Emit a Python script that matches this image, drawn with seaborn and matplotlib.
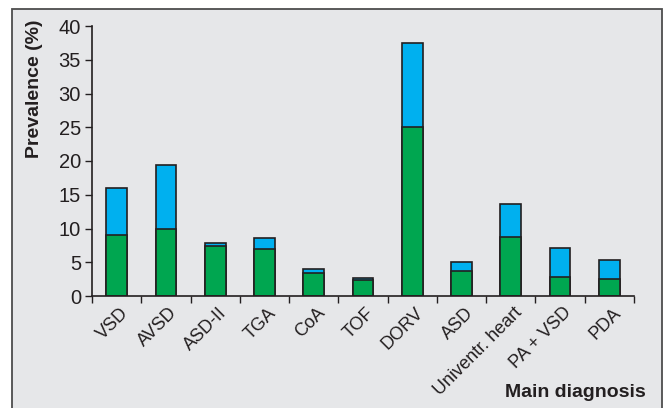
import pandas as pd
import numpy as np
import matplotlib
matplotlib.use('Agg')
import matplotlib.pyplot as plt
import matplotlib.transforms as mtransforms
import seaborn as sns
from matplotlib.patches import Rectangle

diagnoses = ['VSD', 'AVSD', 'ASD-II', 'TGA', 'CoA', 'TOF', 'DORV', 'ASD',
             'Univentr. heart', 'PA + VSD', 'PDA']
green_vals = [9.0, 10.0, 7.45, 7.0, 3.45, 2.3, 25.0, 3.75, 8.7, 2.8, 2.55]
total_vals = [16.0, 19.4, 7.9, 8.6, 4.0, 2.6, 37.5, 5.0, 13.7, 7.05, 5.3]

df = pd.DataFrame({'diagnosis': diagnoses, 'green': green_vals, 'total': total_vals})

bg = '#e6e7e9'
green = '#00a650'
blue = '#00b0ef'
edge = '#231f20'

sns.set_style('white')
plt.rcParams['font.family'] = ['Liberation Sans', 'DejaVu Sans']

fig = plt.figure(figsize=(6.68, 4.08), dpi=100, facecolor='white')
# grey panel with a frame on left, top and right
fig.patches.append(Rectangle((11.5/668, -10/408), 650.5/668, 409.5/408, transform=fig.transFigure,
                             facecolor=bg, edgecolor='#4d4d4d', linewidth=1.3, zorder=-1))
ax = fig.add_axes([92/668, (408-296)/408, (634-92)/668, 270/408])
ax.patch.set_alpha(0)

sns.barplot(data=df, x='diagnosis', y='total', color=blue, edgecolor=edge, linewidth=1.2,
            width=0.42, saturation=1, ax=ax)
sns.barplot(data=df, x='diagnosis', y='green', color=green, edgecolor=edge, linewidth=1.2,
            width=0.42, saturation=1, ax=ax)

ax.set_xlim(-0.5, len(diagnoses) - 0.5)
ax.set_ylim(0, 40)
ax.set_yticks(range(0, 41, 5))
ax.tick_params(axis='y', labelsize=14.5, length=5, width=1, color=edge, left=True, pad=3,
               labelcolor='#231f20')
ax.set_xticks(np.arange(len(diagnoses)))
ax.set_xticklabels(diagnoses, rotation=45, ha='right', rotation_mode='anchor', fontsize=13,
                   color='#231f20')
ax.tick_params(axis='x', length=0, pad=6)
shift = mtransforms.ScaledTranslation(3/100, 0, fig.dpi_scale_trans)
for lab in ax.get_xticklabels():
    lab.set_transform(lab.get_transform() + shift)
ax.set_xticks(np.arange(-0.5, len(diagnoses)), minor=True)
ax.tick_params(axis='x', which='minor', length=5, width=1, color=edge, bottom=True)

for s in ['top', 'right']:
    ax.spines[s].set_visible(False)
for s in ['left', 'bottom']:
    ax.spines[s].set_color(edge)
    ax.spines[s].set_linewidth(1.2)

ax.set_ylabel('Prevalence (%)', fontsize=14, fontweight='bold', color='#231f20')
ax.yaxis.set_label_coords(-0.09, 0.767)
ax.set_xlabel('')
fig.text(646/668, (408-397)/408, 'Main diagnosis', ha='right', va='baseline',
         fontsize=14, fontweight='bold', color='#231f20')

fig.savefig('out.png', dpi=100, facecolor='white')
